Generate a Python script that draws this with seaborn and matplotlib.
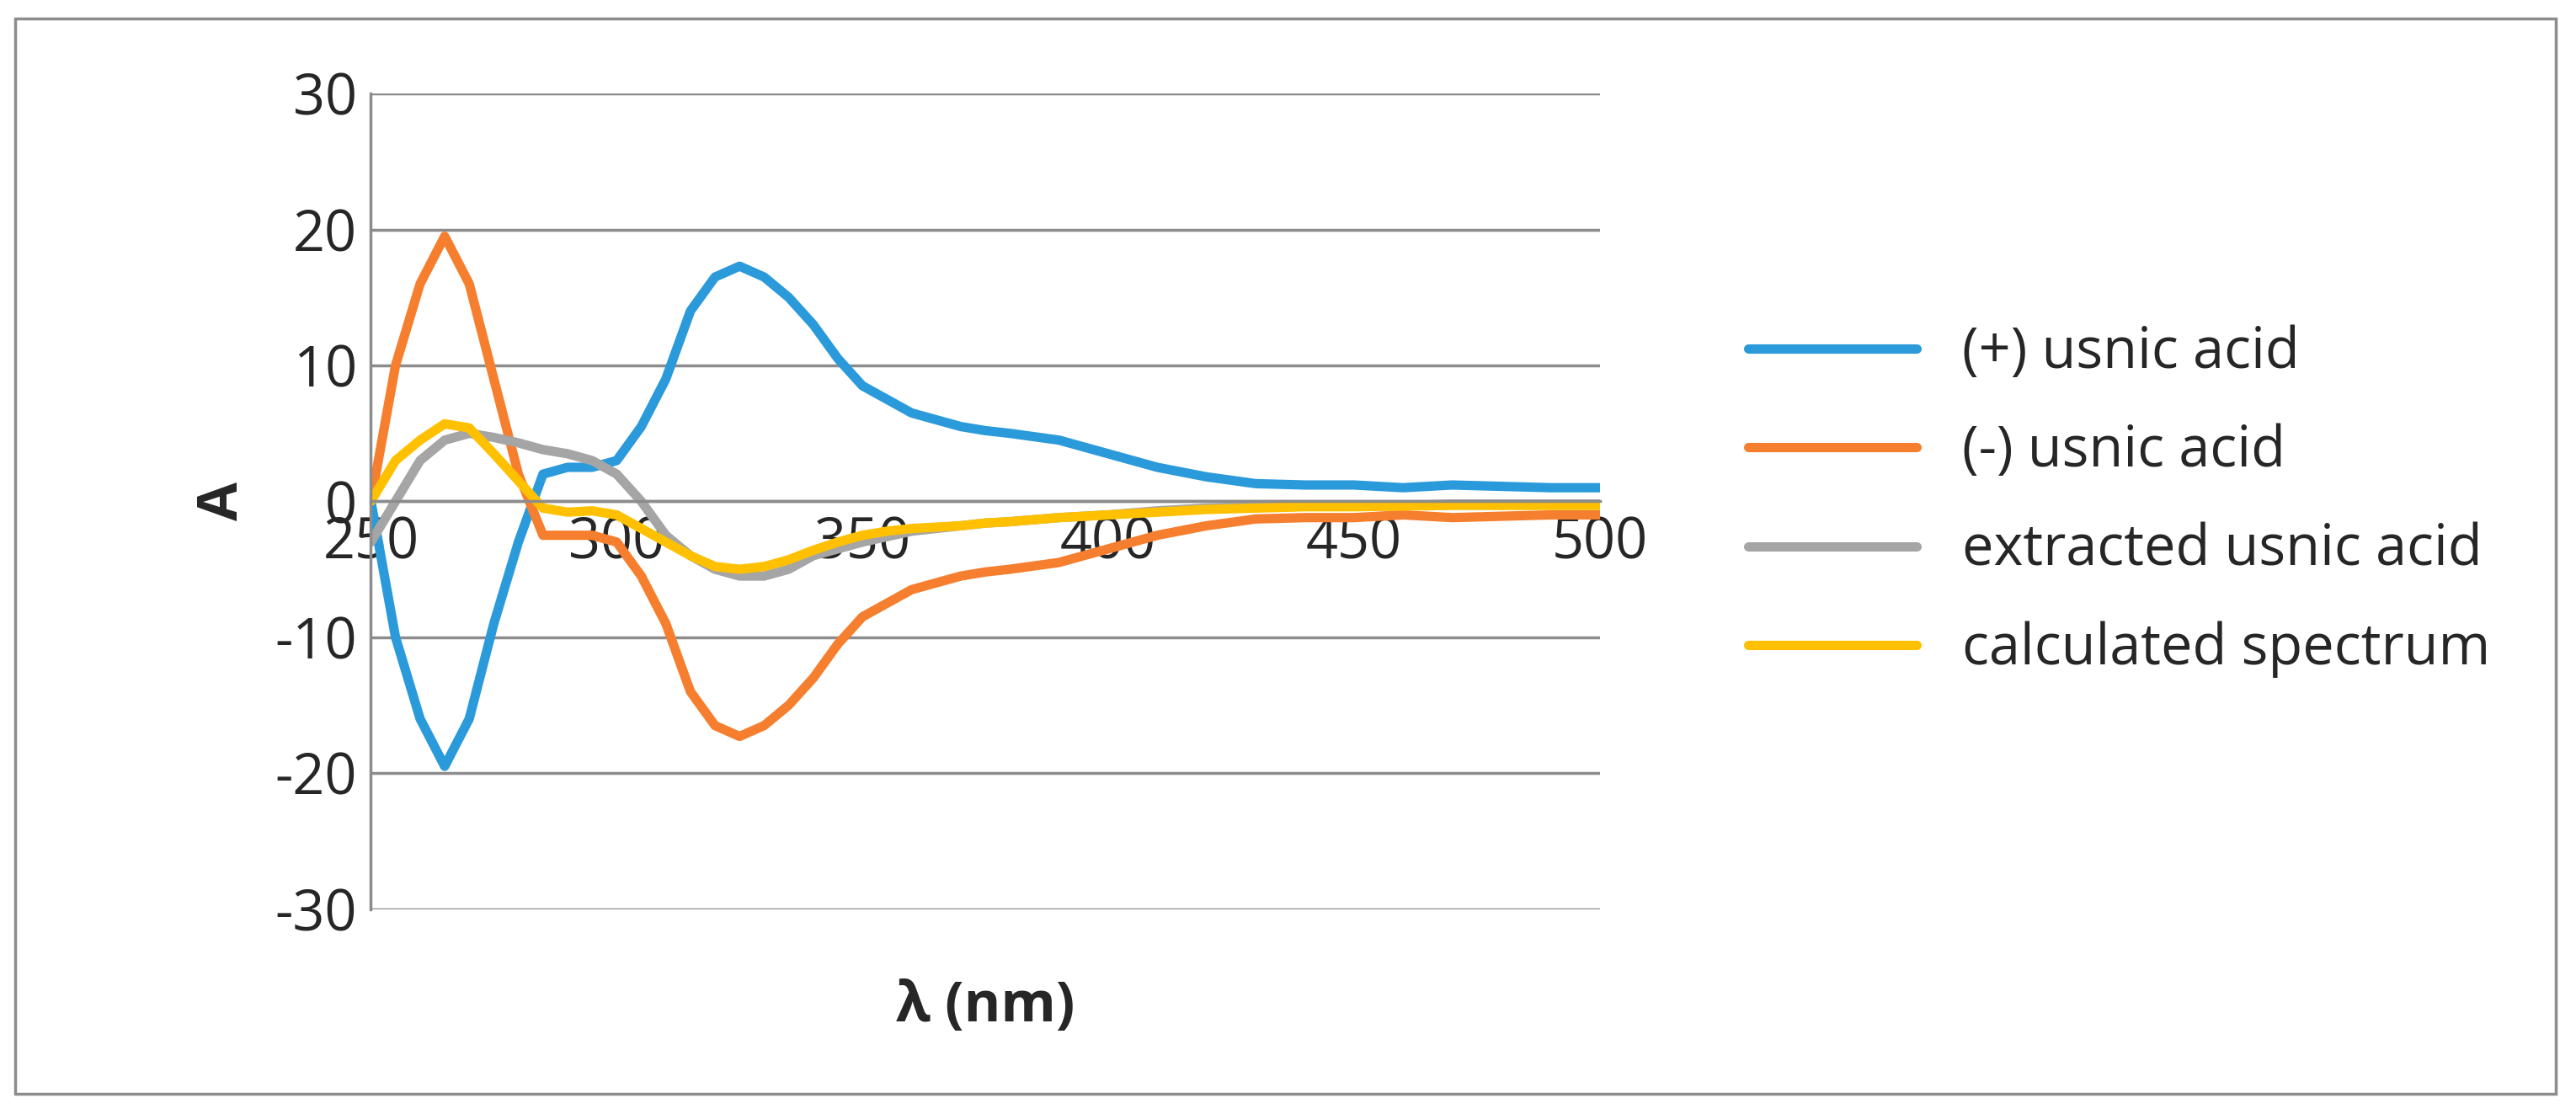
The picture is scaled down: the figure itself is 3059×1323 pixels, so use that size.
import numpy as np
import pandas as pd
import matplotlib.pyplot as plt
import seaborn as sns
from matplotlib.patches import Rectangle

# wavelength grid (nm) and series
wl = [250, 255, 260, 265, 270, 275, 280, 285, 290, 295, 300, 305, 310, 315, 320, 325,
      330, 335, 340, 345, 350, 355, 360, 365, 370, 375, 380, 390, 400, 410, 420, 430,
      440, 450, 460, 470, 480, 490, 500]
plus_usnic = [0, -10, -16, -19.5, -16, -9, -3, 2, 2.5, 2.5, 3, 5.5, 9, 14, 16.5, 17.3,
              16.5, 15, 13, 10.5, 8.5, 7.5, 6.5, 6, 5.5, 5.2, 5, 4.5, 3.5, 2.5, 1.8, 1.3,
              1.2, 1.2, 1.0, 1.2, 1.1, 1.0, 1.0]
minus_usnic = [0, 10, 16, 19.5, 16, 9, 2, -2.5, -2.5, -2.5, -3, -5.5, -9, -14, -16.5, -17.3,
               -16.5, -15, -13, -10.5, -8.5, -7.5, -6.5, -6, -5.5, -5.2, -5, -4.5, -3.5, -2.5,
               -1.8, -1.3, -1.2, -1.2, -1.0, -1.2, -1.1, -1.0, -1.0]
extracted = [-3, 0, 3, 4.5, 5, 4.7, 4.3, 3.8, 3.5, 3, 2, 0, -2.5, -4, -5, -5.5,
             -5.5, -5, -4, -3.5, -3, -2.6, -2.2, -2, -1.8, -1.6, -1.5, -1.2, -1, -0.7, -0.5, -0.4,
             -0.3, -0.3, -0.3, -0.2, -0.2, -0.2, -0.2]
calculated = [0, 3, 4.5, 5.7, 5.4, 3.5, 1.5, -0.5, -0.8, -0.7, -1, -2, -3, -4, -4.8, -5,
              -4.8, -4.3, -3.6, -3, -2.5, -2.2, -2, -1.9, -1.8, -1.6, -1.5, -1.2, -1, -0.8, -0.6, -0.5,
              -0.4, -0.4, -0.35, -0.3, -0.3, -0.3, -0.3]

names = ["(+) usnic acid", "(-) usnic acid", "extracted usnic acid", "calculated spectrum"]
colors = ["#2B9ADB", "#F57F2E", "#A5A5A5", "#FFC000"]

df = pd.DataFrame({"wl": wl * 4,
                   "A": plus_usnic + minus_usnic + extracted + calculated,
                   "series": sum([[n] * len(wl) for n in names], [])})

sns.set_style("white")
plt.rcParams["font.family"] = ["Open Sans", "DejaVu Sans"]
plt.rcParams["axes.unicode_minus"] = False

fig = plt.figure(figsize=(30.59, 13.23), dpi=100)
ax = fig.add_axes([0.144, 0.184, 0.477, 0.732])
sns.lineplot(data=df, x="wl", y="A", hue="series", palette=colors, hue_order=names,
             linewidth=8, ax=ax)

ax.set_xlim(250, 500)
ax.set_ylim(-30, 30)
ax.set_yticks(range(-30, 31, 10))
ax.set_xticks(range(250, 501, 50))
ax.yaxis.grid(True, color="#8C8C8C", linewidth=2.5)
ax.set_axisbelow(True)
for s in ["top", "right"]:
    ax.spines[s].set_visible(False)
ax.spines["bottom"].set_position(("data", 0))
ax.spines["bottom"].set_color("#8C8C8C")
ax.spines["bottom"].set_linewidth(2.5)
ax.spines["left"].set_color("#8C8C8C")
ax.spines["left"].set_linewidth(2.5)
ax.tick_params(axis="both", labelsize=48, length=0, pad=12)
ax.set_xlabel("λ (nm)", fontsize=48, fontweight="bold")
ax.xaxis.set_label_coords(0.5, -0.085)
ax.set_ylabel("A", fontsize=48, fontweight="bold", labelpad=20)

ax.legend(loc="center left", bbox_to_anchor=(1.08, 0.5), frameon=False, fontsize=48,
          handlelength=3.0, labelspacing=0.75)

fig.patches.append(Rectangle((0.006, 0.018), 0.986, 0.965, transform=fig.transFigure,
                             fill=False, edgecolor="#8C8C8C", linewidth=2.5))
fig.savefig("out.png", dpi=100)
